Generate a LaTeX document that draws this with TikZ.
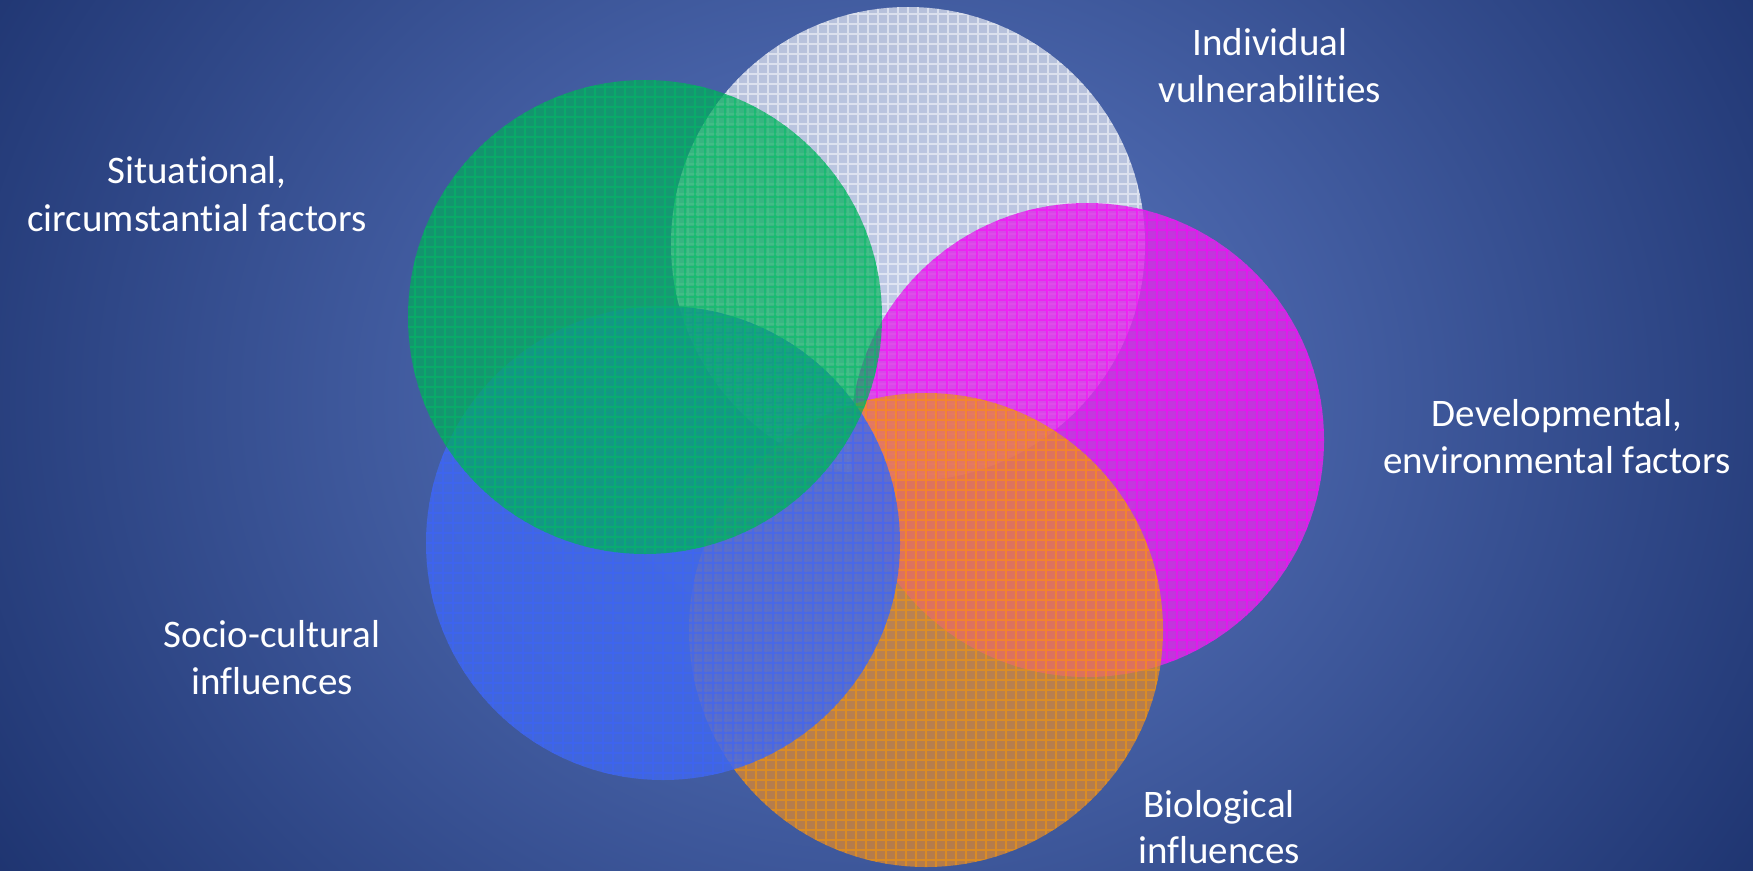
\documentclass[tikz,border=0pt]{standalone}
\usepackage{fontspec}
\setmainfont{Carlito}[Ligatures=NoCommon]
\usetikzlibrary{calc}
\definecolor{bgin}{RGB}{95,125,200}
\definecolor{bgout}{RGB}{30,52,112}
\definecolor{cwhite}{RGB}{255,255,255}
\definecolor{cgreen}{RGB}{0,175,90}
\definecolor{ggreen}{RGB}{0,190,100}
\definecolor{cmag}{RGB}{222,45,232}
\definecolor{gmag}{RGB}{255,0,255}
\definecolor{corange}{RGB}{232,140,40}
\definecolor{gorange}{RGB}{255,155,0}
\definecolor{cblue}{RGB}{65,105,235}
\definecolor{gblue}{RGB}{60,100,255}
\begin{document}
\begin{tikzpicture}[x=1pt,y=-1pt,
  lbl/.style={text=white, font=\fontsize{39}{47}\selectfont, inner sep=0pt},
  venn/.style n args={3}{circle, minimum size=474pt, inner sep=0pt,
    fill=#1, fill opacity=#2,
    path picture={\draw[#3, line width=1.1pt, draw opacity=0.5]
      (path picture bounding box.south west) grid[step=10pt]
      (path picture bounding box.north east);}}]
\useasboundingbox (0,0) rectangle (1753,870);
\begin{scope}
  \clip (0,0) rectangle (1753,870);
  \shade[inner color=bgin, outer color=bgout] (-170,-500) rectangle (1930,1300);
\end{scope}
% circles
\node[venn={cwhite}{0.62}{white}] (indiv) at (908,244) {};
\node[venn={cmag}{0.82}{gmag}] (devel) at (1087,440) {};
\node[venn={corange}{0.7}{gorange}] (bio) at (926,630) {};
\node[venn={cblue}{0.82}{gblue}] (socio) at (663,543) {};
\node[venn={cgreen}{0.7}{ggreen}] (situ) at (645,317) {};
% labels
\node[lbl, anchor=base] (ind1) at (1270,55) {Individual};
\node[lbl, anchor=base] (ind2) at (1270,102) {vulnerabilities};
\node[lbl, anchor=base] (sit1) at (197,183) {Situational,};
\node[lbl, anchor=base] (sit2) at (197,231) {circumstantial factors};
\node[lbl, anchor=base] (dev1) at (1557,426) {Developmental,};
\node[lbl, anchor=base] (dev2) at (1557,473) {environmental factors};
\node[lbl, anchor=base] (soc1) at (272,647) {Socio-cultural};
\node[lbl, anchor=base] (soc2) at (272,694) {influences};
\node[lbl, anchor=base] (bio1) at (1219,817) {Biological};
\node[lbl, anchor=base] (bio2) at (1219,863) {influences};
\end{tikzpicture}
\end{document}
